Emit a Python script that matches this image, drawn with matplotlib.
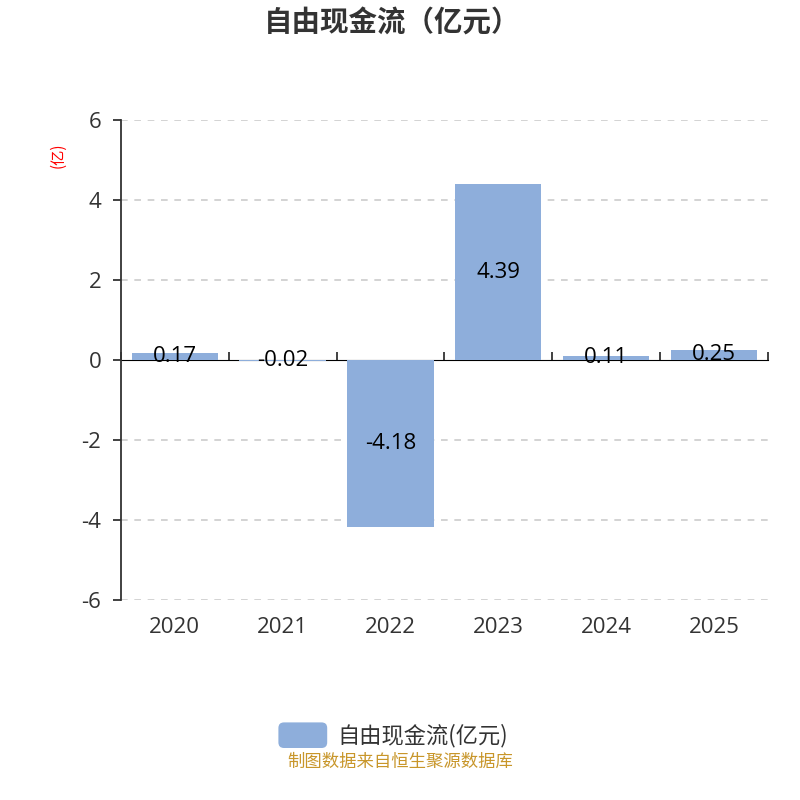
import matplotlib
matplotlib.use("Agg")
import matplotlib.pyplot as plt
from matplotlib.patches import FancyBboxPatch
import numpy as np

plt.rcParams['font.family'] = ['Open Sans', 'Noto Sans CJK SC', 'DejaVu Sans']

years = ["2020", "2021", "2022", "2023", "2024", "2025"]
values = [0.17, -0.02, -4.18, 4.39, 0.11, 0.25]
labels = ["0.17", "-0.02", "-4.18", "4.39", "0.11", "0.25"]
yticks = [-6, -4, -2, 0, 2, 4, 6]
title = "自由现金流（亿元）"
series_name = "自由现金流(亿元)"
unit = "(亿)"
footer = "制图数据来自恒生聚源数据库"

bar_color = "#8eaedb"
axis_color = "#333333"

fig = plt.figure(figsize=(8, 8), dpi=100)
ax = fig.add_axes([0.151, 0.25, 0.809, 0.60])

x = np.arange(len(years))
ax.bar(x, values, width=0.8, color=bar_color, zorder=2)
for xi, v, lab in zip(x, values, labels):
    ax.text(xi, v / 2, lab, ha="center", va="center", fontsize=16,
            color="black", zorder=3)

ax.set_xlim(-0.5, len(years) - 0.5)
ax.set_ylim(-6, 6)
ax.set_yticks(yticks)
ax.set_yticklabels([str(t) for t in yticks])
for t in yticks:
    if t != 0:
        ax.axhline(t, color="#cccccc", linestyle=(0, (4, 4)), linewidth=1.2, zorder=1)

for s in ["top", "right", "bottom"]:
    ax.spines[s].set_visible(False)
ax.spines["left"].set_color(axis_color)
ax.spines["left"].set_linewidth(1.3)
ax.tick_params(axis="y", direction="out", length=6, width=1.3, color=axis_color,
               labelsize=16, labelcolor=axis_color, pad=8)

ax.set_xticks(x)
ax.set_xticklabels(years)
ax.tick_params(axis="x", length=0, labelsize=16, labelcolor=axis_color, pad=12)

sec = ax.secondary_xaxis(0.5)
sec.set_xticks(np.arange(len(years) + 1) - 0.5)
sec.set_xticklabels([])
sec.tick_params(axis="x", direction="out", length=6, width=1.3, color=axis_color)
sec.spines["bottom"].set_color(axis_color)
sec.spines["bottom"].set_linewidth(1.3)

fig.text(0.073, 0.806, unit, rotation=90, color="red", fontsize=11,
         ha="center", va="center", family=['Noto Sans CJK SC'])

fig.text(0.49, 0.971, title, ha="center", va="center", fontsize=20.5,
         fontweight="bold", color="#333333", family=['Noto Sans CJK SC'])

legend_box = FancyBboxPatch((0.348, 0.065), 0.061, 0.032,
                            boxstyle="round,pad=0,rounding_size=0.007",
                            transform=fig.transFigure, facecolor=bar_color,
                            edgecolor="none")
fig.patches.append(legend_box)
fig.text(0.422, 0.081, series_name, ha="left", va="center", fontsize=16,
         color="#333333", family=['Noto Sans CJK SC'])

fig.text(0.5, 0.047, footer, ha="center", va="center", fontsize=12.5,
         color="#c8962a", family=['Noto Sans CJK SC'])

fig.savefig("out.png", dpi=100)
